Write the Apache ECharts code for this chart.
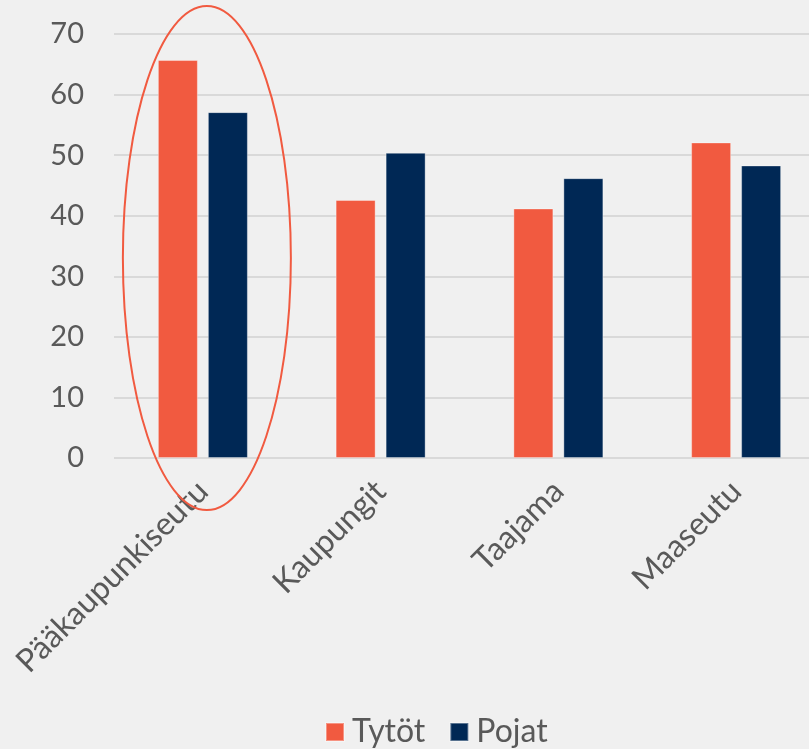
<!DOCTYPE html>
<html>
<head>
<meta charset="utf-8">
<script src="https://cdn.jsdelivr.net/npm/echarts@6/dist/echarts.min.js"></script>
<style>
  html, body { margin: 0; padding: 0; background: #f0f0f0; }
  #chart { width: 809px; height: 749px; }
</style>
</head>
<body>
<div id="chart"></div>
<script>
var categories = ['Pääkaupunkiseutu', 'Kaupungit', 'Taajama', 'Maaseutu'];
var tytot = [65.7, 42.6, 41.2, 52.1];
var pojat = [57.1, 50.4, 46.2, 48.3];
var yTicks = [0, 70, 10]; // min, max, interval

var textColor = '#595959';
var fontFam = 'Lato, "Open Sans", sans-serif';

var chart = echarts.init(document.getElementById('chart'));

var option = {
    backgroundColor: '#f0f0f0',
    animation: false,
    textStyle: { fontFamily: fontFam },
    grid: {
        left: 114,
        right: -16,
        top: 34,
        bottom: 291,
        outerBoundsMode: 'none'
    },
    legend: {
        data: ['Tytöt', 'Pojat'],
        top: 711,
        left: 320,
        padding: 5,
        itemWidth: 18,
        itemHeight: 18,
        itemGap: 24,
        icon: 'rect',
        textStyle: { color: textColor, fontSize: 32, fontFamily: fontFam, padding: [0, 0, 0, 3] }
    },
    xAxis: {
        type: 'category',
        data: categories,
        axisLine: { show: false },
        axisTick: { show: false },
        axisLabel: {
            rotate: 45,
            margin: 28,
            color: textColor,
            fontSize: 32,
            fontFamily: fontFam
        }
    },
    yAxis: {
        type: 'value',
        min: yTicks[0],
        max: yTicks[1],
        interval: yTicks[2],
        axisLine: { show: false },
        axisTick: { show: false },
        splitLine: { lineStyle: { color: '#d9d9d9', width: 2 } },
        axisLabel: {
            margin: 30,
            color: textColor,
            fontSize: 29,
            fontFamily: fontFam
        }
    },
    series: [
        {
            name: 'Tytöt',
            type: 'bar',
            data: tytot,
            barWidth: 40,
            barGap: '25%',
            itemStyle: { color: '#f15a40', borderColor: 'rgba(255,255,255,0.35)', borderWidth: 1 }
        },
        {
            name: 'Pojat',
            type: 'bar',
            data: pojat,
            barWidth: 40,
            itemStyle: { color: '#002855', borderColor: 'rgba(255,255,255,0.35)', borderWidth: 1 }
        }
    ]
};
chart.setOption(option);

// highlight ellipse round the first category
var c = chart.convertToPixel({ xAxisIndex: 0, yAxisIndex: 0 }, [0, 33]);
chart.setOption({
    graphic: [{
        type: 'ellipse',
        shape: { cx: c[0] + 4, cy: c[1], rx: 84, ry: 252 },
        style: { fill: 'none', stroke: '#f15a40', lineWidth: 2 },
        z: 100
    }]
});
</script>
</body>
</html>
